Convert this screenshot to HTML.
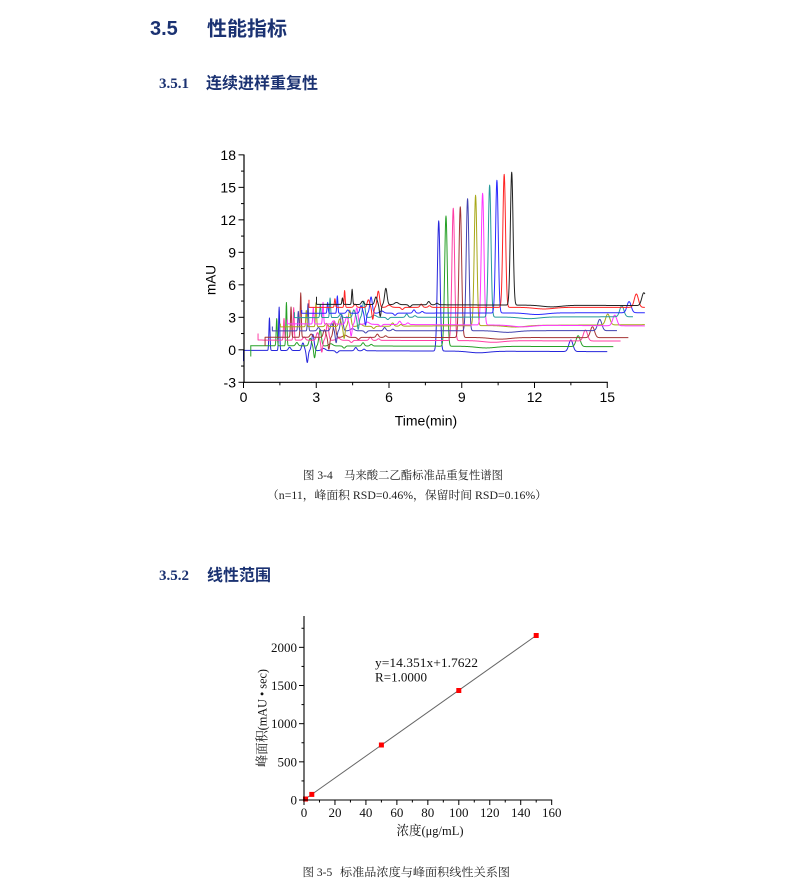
<!DOCTYPE html>
<html>
<head>
<meta charset="utf-8">
<style>
html,body{margin:0;padding:0;background:#fff;}
svg{display:block;}
.h1n{font-family:"Liberation Sans","Noto Sans CJK SC",sans-serif;font-weight:bold;fill:#1b3272;}
.h1c{font-family:"Liberation Sans","Noto Sans CJK SC",sans-serif;font-weight:bold;fill:#1b3272;}
.h2n{font-family:"Liberation Serif","Noto Serif CJK SC",serif;font-weight:bold;fill:#1b3272;}
.cap{font-family:"Liberation Serif","Noto Serif CJK SC",serif;fill:#222;}
.ax1{font-family:"Liberation Sans",sans-serif;fill:#000;}
.ax2{font-family:"Liberation Serif","Noto Serif CJK SC",serif;fill:#111;}
</style>
</head>
<body>
<svg id="s" width="800" height="894" viewBox="0 0 800 894" xmlns="http://www.w3.org/2000/svg">
<rect width="800" height="894" fill="#fff"/>

<!-- Headings -->
<text class="h1n" x="150" y="35" font-size="20">3.5</text>
<text class="h1c" x="207" y="35.5" font-size="20">性能指标</text>
<text class="h2n" x="159" y="88" font-size="15">3.5.1</text>
<text class="h1c" x="206" y="88.5" font-size="16">连续进样重复性</text>
<text class="h2n" x="159" y="580" font-size="15">3.5.2</text>
<text class="h1c" x="207" y="580.5" font-size="16">线性范围</text>

<!-- Captions -->
<text class="cap" x="303" y="479" font-size="11.5">图 3-4</text>
<text class="cap" x="344" y="479" font-size="11.5" textLength="159" lengthAdjust="spacingAndGlyphs">马来酸二乙酯标准品重复性谱图</text>
<text class="cap" x="267" y="499" font-size="11.5" textLength="280" lengthAdjust="spacingAndGlyphs">（n=11，峰面积 RSD=0.46%，保留时间 RSD=0.16%）</text>
<text class="cap" x="302.5" y="876" font-size="11.5">图 3-5</text>
<text class="cap" x="340" y="876" font-size="11.5" textLength="170" lengthAdjust="spacingAndGlyphs">标准品浓度与峰面积线性关系图</text>

<!-- ============ Top chart ============ -->
<g id="tr" fill="none" stroke-width="1" stroke-linejoin="round"></g>
<g id="ax1" stroke="#000" stroke-width="1.2" fill="none">
  <line x1="244" y1="154.5" x2="244" y2="382.8"/>
  <line x1="243.4" y1="382.3" x2="607.8" y2="382.3"/>
</g>
<g id="ax1t" stroke="#000" stroke-width="1"></g>
<g class="ax1" font-size="14" text-anchor="end">
  <text x="236" y="160">18</text>
  <text x="236" y="192.5">15</text>
  <text x="236" y="225">12</text>
  <text x="236" y="257.5">9</text>
  <text x="236" y="290">6</text>
  <text x="236" y="322.3">3</text>
  <text x="236" y="354.8">0</text>
  <text x="236" y="387.3">-3</text>
</g>
<g class="ax1" font-size="14" text-anchor="middle">
  <text x="243.5" y="402">0</text>
  <text x="316.25" y="402">3</text>
  <text x="389" y="402">6</text>
  <text x="461.75" y="402">9</text>
  <text x="534.5" y="402">12</text>
  <text x="607.25" y="402">15</text>
</g>
<text class="ax1" x="426" y="425.5" font-size="14" text-anchor="middle">Time(min)</text>
<text class="ax1" font-size="13.5" text-anchor="middle" transform="translate(215.5,280) rotate(-90)">mAU</text>

<!-- ============ Bottom chart ============ -->
<line x1="304" y1="799.9" x2="536.2" y2="635.5" stroke="#666" stroke-width="1"/>
<g fill="#ff0000">
  <rect x="303" y="796.5" width="5" height="5"/>
  <rect x="309.3" y="791.9" width="5" height="5"/>
  <rect x="378.9" y="742.5" width="5" height="5"/>
  <rect x="456.3" y="688" width="5" height="5"/>
  <rect x="533.7" y="633" width="5" height="5"/>
</g>
<g stroke="#000" stroke-width="1.1" fill="none">
  <line x1="304" y1="616" x2="304" y2="800.5"/>
  <line x1="303.5" y1="800" x2="552.2" y2="800"/>
</g>
<g id="ax2t" stroke="#000" stroke-width="1"></g>
<g class="ax2" font-size="13" text-anchor="end">
  <text x="297" y="804.5">0</text>
  <text x="297" y="766.3">500</text>
  <text x="297" y="728.2">1000</text>
  <text x="297" y="690">1500</text>
  <text x="297" y="651.8">2000</text>
</g>
<g class="ax2" font-size="13" text-anchor="middle">
  <text x="304" y="817">0</text>
  <text x="335" y="817">20</text>
  <text x="365.9" y="817">40</text>
  <text x="396.9" y="817">60</text>
  <text x="427.8" y="817">80</text>
  <text x="458.8" y="817">100</text>
  <text x="489.7" y="817">120</text>
  <text x="520.7" y="817">140</text>
  <text x="551.7" y="817">160</text>
</g>
<text class="ax2" x="396.5" y="835" font-size="13" textLength="67" lengthAdjust="spacingAndGlyphs">浓度(μg/mL)</text>
<text class="ax2" font-size="13" text-anchor="middle" textLength="98" lengthAdjust="spacingAndGlyphs" transform="translate(266.5,718) rotate(-90)">峰面积(mAU • sec)</text>
<text class="ax2" x="375" y="667" font-size="13" textLength="103" lengthAdjust="spacingAndGlyphs">y=14.351x+1.7622</text>
<text class="ax2" x="375" y="681.5" font-size="13" textLength="52" lengthAdjust="spacingAndGlyphs">R=1.0000</text>
</svg>

<script>
(function(){
  var NS="http://www.w3.org/2000/svg";
  function X(t){return 243.5+24.25*t;}
  function Y(v){return 349.8-10.83*v;}
  function ln(g,x1,y1,x2,y2){var l=document.createElementNS(NS,"line");l.setAttribute("x1",x1);l.setAttribute("y1",y1);l.setAttribute("x2",x2);l.setAttribute("y2",y2);g.appendChild(l);}
  // top axis ticks
  var g1=document.getElementById("ax1t");
  for(var v=-3;v<=18;v+=1.5){
    var y=Y(v);
    if(Math.abs(v%3)<1e-6) ln(g1,238.5,y,244,y); else ln(g1,241,y,244,y);
  }
  for(var t=0;t<=15.01;t+=1.5){
    var x=X(t);
    if(Math.abs(t%3)<1e-6) ln(g1,x,382.3,x,388); else ln(g1,x,382.3,x,385.3);
  }
  // bottom axis ticks
  var g2=document.getElementById("ax2t");
  for(var a=0;a<=2250;a+=250){
    var yy=800-a*0.07633;
    if(a%500===0) ln(g2,299,yy,304,yy); else ln(g2,301.5,yy,304,yy);
  }
  for(var c=0;c<=160;c+=10){
    var xx=304+c*1.548;
    if(c%20===0) ln(g2,xx,800,xx,805); else ln(g2,xx,800,xx,802.5);
  }
  // traces: t0, yStart, yEnd, color, glitch, tEnd(abs), s1, s2, mainTop, lateTop
  var tr=[
    [0.00,-0.05,-0.17,"#2626dc",-1.0,15.00,3.0,4.0,11.9,0.9],
    [0.30,0.38,0.29,"#26a026",-1.0,15.25,2.5,4.0,12.35,1.3],
    [0.60,0.90,0.81,"#ff3fa5",0.6,15.55,2.0,3.0,13.07,1.83],
    [0.89,1.16,1.12,"#a43434",-0.8,15.87,2.8,4.1,13.2,2.13],
    [1.19,1.75,1.77,"#4242b0",0.4,15.40,1.8,2.5,13.95,2.81],
    [1.52,2.12,2.32,"#a8a818",0.3,16.55,1.5,2.2,14.27,3.3],
    [1.81,2.40,2.20,"#ff36ff",0.4,16.55,1.5,2.0,14.45,3.2],
    [2.10,2.97,3.06,"#259a9a",0.5,16.06,1.2,1.8,15.2,4.07],
    [2.40,3.37,3.43,"#2a2aff",0.3,16.55,1.0,1.6,15.65,4.45],
    [2.70,3.92,3.92,"#ff2424",0.7,16.55,0.8,1.55,16.2,5.15],
    [3.01,4.20,4.07,"#222222",0.7,16.55,0.6,1.4,16.4,5.27]
  ];
  var g=document.getElementById("tr");
  tr.forEach(function(p){
    var t0=p[0],y0=p[1],y1=p[2],col=p[3],gl=p[4],te=p[5];
    function base(dt){return y0+(y1-y0)*Math.min(dt,15)/15;}
    var mainH=p[8]-base(8.05), lateH=p[9]-base(13.5);
    var f=[[1.07,p[6],0.022],[1.47,p[7],0.022],[1.9,0.3,0.05],[2.45,0.7,0.05],[2.63,-1.1,0.035],
           [2.86,1.5,0.05],[3.3,0.2,0.08],[3.85,-0.2,0.05],[4.63,0.3,0.05],[4.97,0.15,0.05],
           [8.05,mainH,0.055],[9.7,-0.15,0.4],[13.5,lateH,0.085]];
    var d="M"+X(t0).toFixed(2)+","+Y(y0+gl).toFixed(2);
    for(var t=t0;t<=te+1e-9;t+=0.01){
      var dt=t-t0, v=base(dt);
      for(var i=0;i<f.length;i++){var z=(dt-f[i][0])/f[i][2]; if(z>-6&&z<6) v+=f[i][1]*Math.exp(-0.5*z*z);}
      d+="L"+X(t).toFixed(2)+","+Y(v).toFixed(2);
    }
    var path=document.createElementNS(NS,"path");
    path.setAttribute("d",d);path.setAttribute("stroke",col);
    g.appendChild(path);
  });
})();
</script>
</body>
</html>
